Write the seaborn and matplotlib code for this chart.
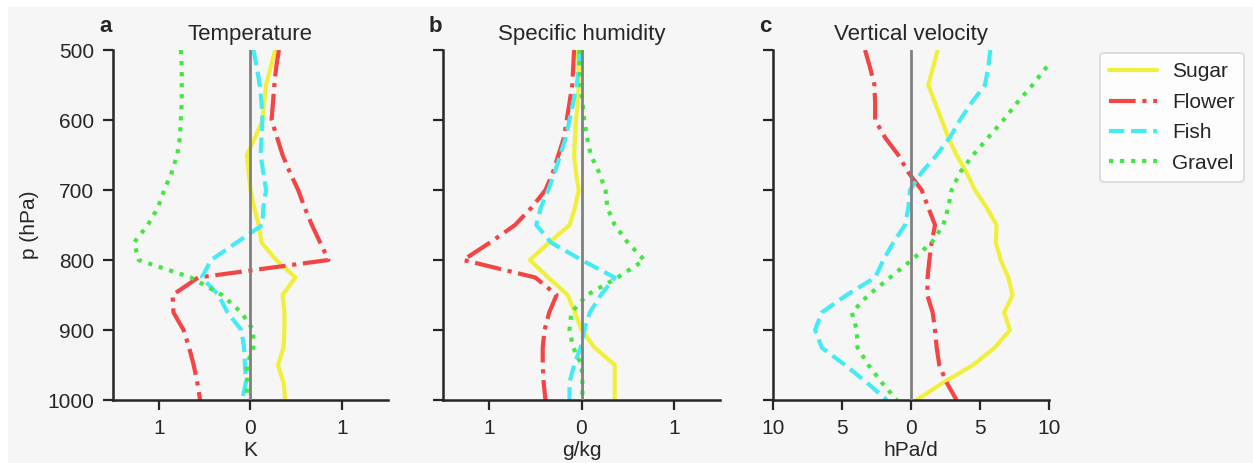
import numpy as np
import pandas as pd
import seaborn as sns
import matplotlib.pyplot as plt
from matplotlib.patches import Rectangle

# ---------------- data ----------------
pressure = [500, 525, 550, 575, 600, 625, 650, 675, 700, 725, 750,
            775, 800, 825, 850, 875, 900, 925, 950, 975, 1000]

classes = ["Sugar", "Flower", "Fish", "Gravel"]

temp_sugar = [0.27, 0.22, 0.17, 0.15, 0.13, 0.05, -0.04, -0.02, 0.0, 0.04, 0.09,
              0.12, 0.28, 0.49, 0.35, 0.37, 0.37, 0.36, 0.30, 0.36, 0.38]
temp_flower = [0.31, 0.28, 0.26, 0.245, 0.23, 0.29, 0.35, 0.43, 0.52, 0.59, 0.67,
               0.76, 0.85, -0.57, -0.85, -0.84, -0.73, -0.67, -0.62, -0.58, -0.55]
temp_fish = [0.03, 0.07, 0.10, 0.12, 0.13, 0.12, 0.11, 0.14, 0.17, 0.14, 0.13,
             -0.15, -0.43, -0.53, -0.35, -0.25, -0.10, -0.07, -0.06, -0.05, -0.09]
temp_gravel = [-0.76, -0.75, -0.75, -0.75, -0.76, -0.77, -0.80, -0.86, -0.94, -1.01, -1.12,
               -1.27, -1.22, -0.65, -0.31, -0.10, 0.03, 0.03, -0.04, -0.04, -0.04]

q_sugar = [-0.04, -0.03, -0.03, -0.04, -0.06, -0.07, -0.08, -0.06, -0.03, -0.07, -0.13,
           -0.35, -0.56, -0.36, -0.15, -0.07, 0.0, 0.14, 0.36, 0.36, 0.36]
q_flower = [-0.08, -0.09, -0.10, -0.13, -0.16, -0.19, -0.25, -0.31, -0.39, -0.54, -0.72,
            -0.99, -1.28, -0.50, -0.27, -0.35, -0.40, -0.42, -0.42, -0.41, -0.39]
q_fish = [-0.02, -0.03, -0.05, -0.09, -0.13, -0.17, -0.23, -0.29, -0.36, -0.44, -0.49,
          -0.33, 0.0, 0.36, 0.21, 0.09, 0.03, -0.01, -0.08, -0.13, -0.13]
q_gravel = [-0.02, -0.02, -0.01, 0.01, 0.03, 0.06, 0.10, 0.19, 0.26, 0.28, 0.36,
            0.50, 0.68, 0.39, 0.06, -0.11, -0.13, -0.09, 0.0, 0.01, 0.01]

w_sugar = [1.93, 1.6, 1.25, 1.74, 2.22, 2.70, 3.3, 4.03, 4.63, 5.48, 6.2,
           6.15, 6.5, 7.05, 7.36, 6.75, 7.17, 6.08, 4.5, 2.34, 0.41]
w_flower = [-3.33, -2.97, -2.65, -2.6, -2.6, -1.88, -0.92, -0.19, 0.77, 1.25, 1.74,
            1.5, 1.33, 1.2, 1.18, 1.57, 1.74, 1.86, 2.05, 2.58, 3.3]
w_fish = [5.75, 5.6, 5.36, 4.4, 3.55, 2.82, 1.86, 0.77, -0.07, -0.19, -0.43,
          -1.28, -2.0, -2.6, -4.66, -6.47, -6.95, -6.47, -4.78, -3.2, -1.76]
w_gravel = [10.9, 9.8, 8.8, 7.7, 6.7, 5.6, 4.5, 3.55, 2.94, 2.7, 2.34,
            1.5, 0.05, -1.52, -3.09, -4.29, -3.93, -3.88, -3.09, -2.12, -1.04]

panel_titles = ["Temperature", "Specific humidity", "Vertical velocity"]
panel_letters = ["a", "b", "c"]
x_units = ["K", "g/kg", "hPa/d"]
ab_xticks = [-1, 0, 1]
ab_xticklabels = ["1", "0", "1"]
c_xticks = [-10, -5, 0, 5, 10]
c_xticklabels = ["10", "5", "0", "5", "10"]
y_ticks = [500, 600, 700, 800, 900, 1000]

panel_data = [
    [temp_sugar, temp_flower, temp_fish, temp_gravel],
    [q_sugar, q_flower, q_fish, q_gravel],
    [w_sugar, w_flower, w_fish, w_gravel],
]

# ---------------- style ----------------
BG = "#f6f6f6"
sns.set_style("ticks", {"axes.facecolor": BG, "figure.facecolor": "white",
                        "axes.edgecolor": "#262626"})
plt.rcParams["font.family"] = ["Liberation Sans", "DejaVu Sans"]

colors = {"Sugar": "#f0f03c", "Flower": "#f44444", "Fish": "#44eaf4", "Gravel": "#44e644"}
styles = {"Sugar": "-", "Flower": "-.", "Fish": "--", "Gravel": ":"}

fig = plt.figure(figsize=(12.53, 4.63), dpi=100)
fig.patches.append(Rectangle((8 / 1253, 0), 1, 1 - 7 / 463, transform=fig.transFigure,
                             facecolor=BG, edgecolor="none", zorder=-10))

W, H = 1253, 463
lefts = [113, 443, 773]
widths = [275, 277, 276]
top_px, bot_px = 50, 400

axes = []
for i in range(3):
    ax = fig.add_axes([lefts[i] / W, 1 - bot_px / H, widths[i] / W, (bot_px - top_px) / H])
    axes.append(ax)
    for name, vals in zip(classes, panel_data[i]):
        df = pd.DataFrame({"x": vals, "p": pressure})
        sns.lineplot(data=df, x="x", y="p", orient="y", sort=False, ax=ax,
                     color=colors[name], linestyle=styles[name], lw=3, label=name,
                     legend=False, zorder=2)
    ax.axvline(0, color="#808080", lw=2, zorder=3)
    ax.set_ylim(1000, 500)
    ax.set_yticks(y_ticks)
    if i < 2:
        ax.set_xlim(-1.5, 1.5)
        ax.set_xticks(ab_xticks)
        ax.set_xticklabels(ab_xticklabels)
    else:
        ax.set_xlim(-10, 10)
        ax.set_xticks(c_xticks)
        ax.set_xticklabels(c_xticklabels)
    if i == 0:
        ax.set_ylabel("p (hPa)", fontsize=15, labelpad=6)
    else:
        ax.set_yticklabels([])
        ax.set_ylabel("")
    ax.set_xlabel(x_units[i], fontsize=15, labelpad=2)
    ax.set_title(panel_titles[i], fontsize=16, pad=7)
    ax.text(-0.005, 1.05, panel_letters[i], transform=ax.transAxes, ha="right",
            va="baseline", fontsize=16, fontweight="bold")
    ax.tick_params(labelsize=15, length=7.5, width=1.6, color="#262626", pad=6)
    for s in ["left", "bottom"]:
        ax.spines[s].set_linewidth(1.8)
    sns.despine(ax=ax)

handles, labels = axes[2].get_legend_handles_labels()
leg = fig.legend(handles, labels, loc="upper left", bbox_to_anchor=(1100 / W, 1 - 53 / H),
                 borderaxespad=0, fontsize=15, handlelength=2.3, handletextpad=0.7,
                 labelspacing=0.55, frameon=True, fancybox=True, borderpad=0.45)
leg.get_frame().set_edgecolor("#d0d0d0")
leg.get_frame().set_linewidth(1.2)
leg.get_frame().set_facecolor("white")

fig.savefig("out.png", dpi=100)
